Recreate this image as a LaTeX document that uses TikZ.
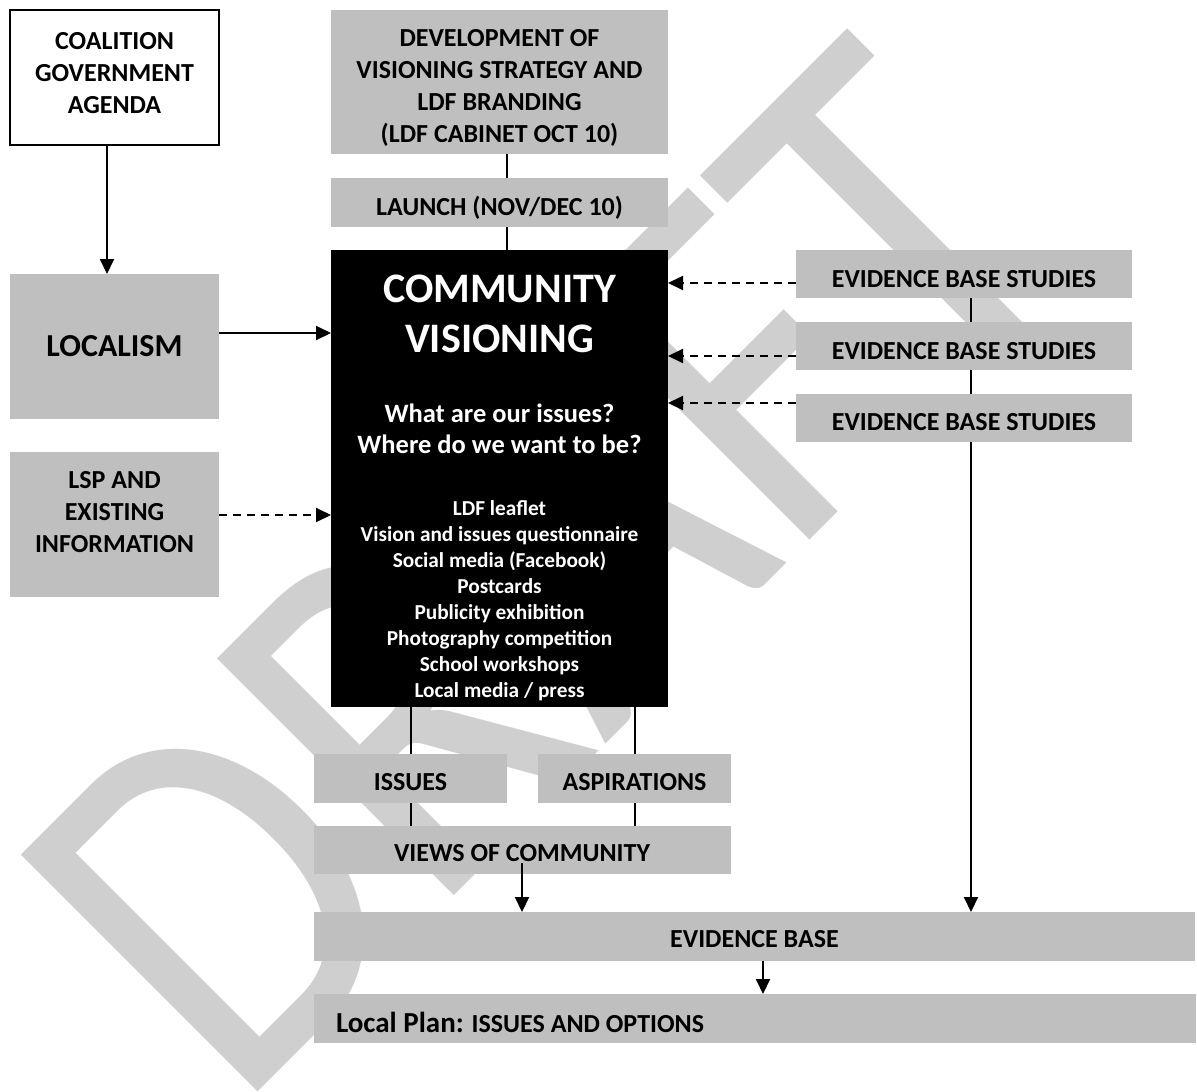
\documentclass[tikz,border=0pt]{standalone}
\usepackage{fontspec}
\setmainfont{Carlito}
\newfontfamily\wmfont[FakeStretch=0.86]{Carlito}
\usetikzlibrary{arrows.meta}
\definecolor{boxgrey}{HTML}{BFBFBF}
\definecolor{wmgrey}{HTML}{CFCFCF}
\begin{document}
\begin{tikzpicture}[x=1pt,y=-1pt,line width=2pt,
  >={Triangle[length=15pt,width=14pt]},
  gbox/.style={fill=boxgrey,draw=none,inner sep=0pt,outer sep=0pt,anchor=north west,
    align=center,font=\bfseries\fontsize{26}{32}\selectfont},
  wbox/.style={gbox,fill=white,draw=black,line width=1.6pt},
  blk/.style={fill=black,draw=none,inner sep=0pt,outer sep=0pt,anchor=north west},
  wtxt/.style={text=white,inner sep=0pt,anchor=base,font=\bfseries},
  ltxt/.style={wtxt,font=\bfseries\fontsize{21.3}{26}\selectfont},
  btxt/.style={inner sep=0pt,align=center,font=\bfseries\fontsize{26}{32}\selectfont},
  dashline/.style={dash pattern=on 8pt off 6pt}]
\useasboundingbox (0,0) rectangle (1197,1092);
\fill[white] (0,0) rectangle (1197,1092);
% watermark
\node[rotate=45,anchor=base west,inner sep=0pt,text=wmgrey,
  font=\wmfont\fontsize{522}{522}\selectfont] (wm) at (236,1114) {DRAFT};
% helper coordinates
\coordinate (x107) at (107,0);
\coordinate (x507) at (507,0);
\coordinate (x971) at (971,0);
\coordinate (x522) at (522,0);
\coordinate (x763) at (763,0);
\coordinate (y333) at (0,333);
\coordinate (y515) at (0,515);
\coordinate (y283) at (0,283);
\coordinate (y356) at (0,356);
\coordinate (y403) at (0,403);
\coordinate (vstart) at (522,863);
% boxes
\node[wbox,minimum width=209,minimum height=135,text depth=10pt] (coal) at (10,10) {COALITION\\GOVERNMENT\\AGENDA};
\node[gbox,minimum width=209,minimum height=145,font=\bfseries\fontsize{32}{38}\selectfont] (loc) at (10,274) {LOCALISM};
\node[gbox,minimum width=209,minimum height=145] (lsp) at (10,452) {};
\node[btxt] (lspT) at (114.5,512) {LSP AND\\EXISTING\\INFORMATION};
\node[gbox,minimum width=337,minimum height=144] (dev) at (331,10) {};
\node[btxt] (devT) at (499.5,88) {DEVELOPMENT OF\\VISIONING STRATEGY AND\\LDF BRANDING\\(LDF CABINET OCT 10)};
\node[gbox,minimum width=337,minimum height=49] (launch) at (331,178) {};
\node[btxt,anchor=base] (launchT) at (499.5,215) {LAUNCH (NOV/DEC 10)};
% connectors under boxes
\draw[->] (coal.south -| x107) -- (loc.north -| x107);
\draw (dev.south -| x507) -- (launch.north -| x507);
\draw (launch.south -| x507) -- (x507 |- 0,250);
\node[blk,minimum width=337,minimum height=457] (cv) at (331,250) {};
\draw[->] (loc.east |- y333) -- (cv.west |- y333);
\draw[->,dashline] (lsp.east |- y515) -- (cv.west |- y515);
\node[wtxt,font=\bfseries\fontsize{42}{50}\selectfont] (cv1) at (499.5,302) {COMMUNITY};
\node[wtxt,font=\bfseries\fontsize{42}{50}\selectfont] (cv2) at (499.5,352) {VISIONING};
\node[wtxt,font=\bfseries\fontsize{26.5}{31}\selectfont] (q1) at (499.5,422) {What are our issues?};
\node[wtxt,font=\bfseries\fontsize{26.5}{31}\selectfont] (q2) at (499.5,453) {Where do we want to be?};
\node[ltxt] (l1) at (499.5,515) {LDF leaflet};
\node[ltxt] (l2) at (499.5,541) {Vision and issues questionnaire};
\node[ltxt] (l3) at (499.5,567) {Social media (Facebook)};
\node[ltxt] (l4) at (499.5,593) {Postcards};
\node[ltxt] (l5) at (499.5,619) {Publicity exhibition};
\node[ltxt] (l6) at (499.5,645) {Photography competition};
\node[ltxt] (l7) at (499.5,671) {School workshops};
\node[ltxt] (l8) at (499.5,697) {Local media / press};
% evidence base studies
\node[gbox,minimum width=336,minimum height=48] (ebs1) at (796,250) {};
\draw[->] (ebs1.south -| x971) -- (x971 |- 0,912);
\node[gbox,minimum width=336,minimum height=48] (ebs2) at (796,322) {};
\node[gbox,minimum width=336,minimum height=48] (ebs3) at (796,394) {};
\node[btxt,anchor=base] (ebs1T) at (964,287) {EVIDENCE BASE STUDIES};
\node[btxt,anchor=base] (ebs2T) at (964,359) {EVIDENCE BASE STUDIES};
\node[btxt,anchor=base] (ebs3T) at (964,430) {EVIDENCE BASE STUDIES};
\draw[->,dashline] (ebs1.west |- y283) -- (cv.east |- y283);
\draw[->,dashline] (ebs2.west |- y356) -- (cv.east |- y356);
\draw[->,dashline] (ebs3.west |- y403) -- (cv.east |- y403);
% lower part
\node[gbox,minimum width=193,minimum height=49] (iss) at (314,754) {};
\node[gbox,minimum width=193,minimum height=49] (asp) at (538,754) {};
\node[btxt,anchor=base] (issT) at (410.5,790) {ISSUES};
\node[btxt,anchor=base] (aspT) at (634.5,790) {ASPIRATIONS};
\node[gbox,minimum width=417,minimum height=48] (views) at (314,826) {};
\node[btxt,anchor=base] (viewsT) at (522,861) {VIEWS OF COMMUNITY};
\draw (cv.south -| iss.south) -- (iss.north);
\draw (cv.south -| asp.south) -- (asp.north);
\draw (iss.south) -- (views.north -| iss.south);
\draw (asp.south) -- (views.north -| asp.south);
\node[gbox,minimum width=881,minimum height=49] (eb) at (314,912) {};
\node[btxt,anchor=base] (ebT) at (754.5,947) {EVIDENCE BASE};
\draw[->] (vstart) -- (eb.north -| vstart);
\node[gbox,minimum width=882,minimum height=49] (lp) at (314,994) {};
\node[anchor=base west,inner sep=0pt,font=\bfseries\fontsize{26}{32}\selectfont] (lpT) at (335,1032) {{\fontsize{29}{34}\selectfont Local Plan:} ISSUES AND OPTIONS};
\draw[->] (eb.south -| x763) -- (lp.north -| x763);
\end{tikzpicture}
\end{document}
